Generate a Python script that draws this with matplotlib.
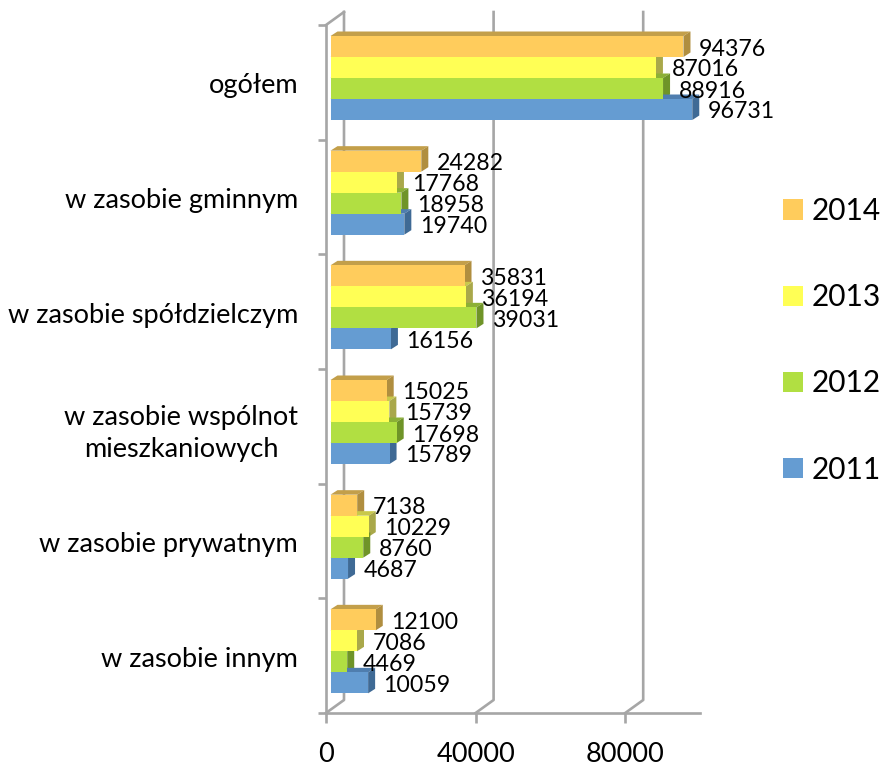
import matplotlib
matplotlib.use("Agg")
import matplotlib.pyplot as plt
from matplotlib.patches import Patch, Polygon

plt.rcParams['font.family'] = ['Lato', 'DejaVu Sans']

categories = ['ogółem', 'w zasobie gminnym', 'w zasobie spółdzielczym',
              'w zasobie wspólnot\nmieszkaniowych', 'w zasobie prywatnym', 'w zasobie innym']
years = ['2014', '2013', '2012', '2011']
v2014 = [94376, 24282, 35831, 15025, 7138, 12100]
v2013 = [87016, 17768, 36194, 15739, 10229, 7086]
v2012 = [88916, 18958, 39031, 17698, 8760, 4469]
v2011 = [96731, 19740, 16156, 15789, 4687, 10059]
series = [v2014, v2013, v2012, v2011]
x_ticks = [0, 40000, 80000]

front = ['#FFCC5C', '#FFFF55', '#B1DF42', '#659CD2']
top = ['#C39F4A', '#C9C94A', '#8CB035', '#4F7EAF']
side = ['#B08E3F', '#A9A84A', '#6F9428', '#3F6A95']
axis_col = '#A6A6A6'

W, H = 884, 769
fig = plt.figure(figsize=(W / 100, H / 100), dpi=100)
# axes box is the front floor/wall of the fake 3d chart
left, right, upper, lower = 326, 700, 25, 713
ax = fig.add_axes([left / W, 1 - lower / H, (right - left) / W, (lower - upper) / H])
ax.set_xlim(0, 100000)
ax.set_ylim(6, 0)
px = 100000 / (right - left)   # one pixel in x data units
py = 6 / (lower - upper)       # one pixel in y data units

# back wall and the diagonals going to it
back_x, back_y = 18 * px, 13 * py
for t in x_ticks:
    ax.plot([t, t + back_x, t + back_x], [6, 6 - back_y, -back_y], color=axis_col, lw=1.9, clip_on=False, zorder=1)
ax.plot([0, back_x], [0, -back_y], color=axis_col, lw=1.9, clip_on=False, zorder=1)

# top and side faces first, front faces over them
start = 4.5 * px
dx, dy = 7 * px, 4.5 * py
bar_h = 21 * py
for s, vals in enumerate(series):
    for i, v in enumerate(vals):
        y0 = i + (11 + s * 21) * py
        y1 = y0 + bar_h
        x1 = start + v
        ax.add_patch(Polygon([(start, y0), (start + dx, y0 - dy), (x1 + dx, y0 - dy), (x1, y0)],
                             facecolor=top[s], edgecolor='none', zorder=2 + s, clip_on=False))
        ax.add_patch(Polygon([(x1, y0), (x1 + dx, y0 - dy), (x1 + dx, y1 - dy), (x1, y1)],
                             facecolor=side[s], edgecolor='none', zorder=2 + s, clip_on=False))
        ax.barh(y0 + bar_h / 2, v, left=start, height=bar_h, color=front[s], zorder=7, clip_on=False)

for s, vals in enumerate(series):
    for i, v in enumerate(vals):
        ax.text(start + v + dx + 8.5 * px, i + (11 + s * 21 + 13) * py, str(v), fontsize=16.7,
                va='center', ha='left', color='black', zorder=10)

for name in ['top', 'right']:
    ax.spines[name].set_visible(False)
for name in ['left', 'bottom']:
    ax.spines[name].set_color(axis_col)
    ax.spines[name].set_linewidth(1.9)
ax.set_axisbelow(True)

ax.set_xticks(x_ticks)
ax.set_xticklabels([str(t) for t in x_ticks], fontsize=19.5)
ax.tick_params(axis='x', length=7, width=1.9, color=axis_col, pad=14)
ax.set_yticks(range(7))
ax.set_yticklabels([])
ax.tick_params(axis='y', which='major', length=6, width=1.9, color=axis_col)
ax.set_yticks([i + 0.5 + 1 * py for i in range(6)], minor=True)
ax.set_yticklabels(categories, minor=True, fontsize=19.5, multialignment='center', linespacing=1.35)
ax.tick_params(axis='y', which='minor', length=0, pad=20)

handles = [Patch(facecolor=c, edgecolor='none') for c in front]
fig.legend(handles, years, loc='upper left', bbox_to_anchor=(783 / W, 1 - 197 / H), frameon=False,
           fontsize=21.5, handlelength=0.67, handleheight=0.67, handletextpad=0.3,
           labelspacing=1.95, borderpad=0, borderaxespad=0)

fig.savefig('out.png', dpi=100)
